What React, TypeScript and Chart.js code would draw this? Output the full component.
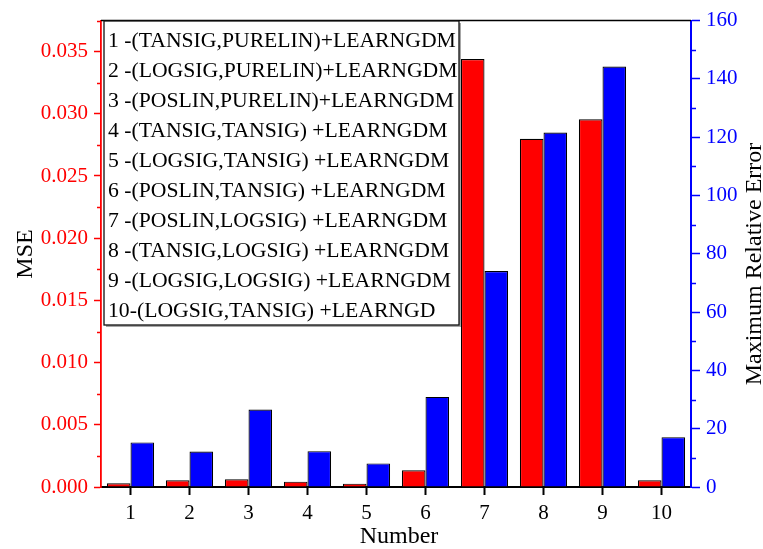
import React, { useEffect, useRef } from "react";
import { Chart, registerables } from "chart.js";

Chart.register(...registerables);

// Network configurations, numbered 1..10
const categories = ["1", "2", "3", "4", "5", "6", "7", "8", "9", "10"];

// Mean squared error (left axis)
const mseValues = [0.0003, 0.00054, 0.00062, 0.00043, 0.00027, 0.00134, 0.0344, 0.028, 0.02956, 0.00054];

// Maximum relative error (right axis)
const mreValues = [15.3, 12.2, 26.6, 12.3, 8.1, 30.9, 74.1, 121.6, 144.2, 17.1];

const mseTicks = [0, 0.005, 0.01, 0.015, 0.02, 0.025, 0.03, 0.035];
const mseMinorTicks = [0.0025, 0.0075, 0.0125, 0.0175, 0.0225, 0.0275, 0.0325, 0.0375];
const mreTicks = [0, 20, 40, 60, 80, 100, 120, 140, 160];
const mreMinorTicks = [10, 30, 50, 70, 90, 110, 130, 150];

const legendLines = [
  "1 -(TANSIG,PURELIN)+LEARNGDM",
  "2 -(LOGSIG,PURELIN)+LEARNGDM",
  "3 -(POSLIN,PURELIN)+LEARNGDM",
  "4 -(TANSIG,TANSIG) +LEARNGDM",
  "5 -(LOGSIG,TANSIG) +LEARNGDM",
  "6 -(POSLIN,TANSIG) +LEARNGDM",
  "7 -(POSLIN,LOGSIG) +LEARNGDM",
  "8 -(TANSIG,LOGSIG) +LEARNGDM",
  "9 -(LOGSIG,LOGSIG) +LEARNGDM",
  "10-(LOGSIG,TANSIG) +LEARNGD",
];

const xTitle = "Number";
const yTitle = "MSE";
const y1Title = "Maximum Relative Error";

const RED = "#ff0000";
const BLUE = "#0000ff";
const FONT = "'Liberation Serif', 'Times New Roman', serif";

const decorPlugin = {
  id: "decor",
  afterDraw(chart: any) {
    const { ctx, chartArea } = chart;
    const { left, right, top, bottom } = chartArea;
    const y = chart.scales.y;
    const y1 = chart.scales.y1;
    ctx.save();

    // top frame line
    ctx.strokeStyle = "#000";
    ctx.lineWidth = 1.5;
    ctx.beginPath();
    ctx.moveTo(left, top);
    ctx.lineTo(right, top);
    ctx.stroke();

    // minor ticks
    ctx.lineWidth = 1.5;
    ctx.strokeStyle = RED;
    for (const v of mseMinorTicks) {
      const py = Math.round(y.getPixelForValue(v)) + 0.5;
      ctx.beginPath();
      ctx.moveTo(left - 4, py);
      ctx.lineTo(left, py);
      ctx.stroke();
    }
    ctx.strokeStyle = BLUE;
    for (const v of mreMinorTicks) {
      const py = Math.round(y1.getPixelForValue(v)) + 0.5;
      ctx.beginPath();
      ctx.moveTo(right, py);
      ctx.lineTo(right + 5, py);
      ctx.stroke();
    }

    // text box listing the configurations
    const bx = left + 3;
    const by = top + 0.5;
    const bw = 355;
    const bh = 304;
    ctx.fillStyle = "rgba(0,0,0,0.35)";
    ctx.fillRect(bx + 2, by + 2, bw, bh);
    ctx.fillStyle = "#fff";
    ctx.fillRect(bx, by, bw, bh);
    ctx.strokeStyle = "#111";
    ctx.lineWidth = 1.3;
    ctx.strokeRect(bx, by, bw, bh);

    ctx.fillStyle = "#000";
    ctx.textAlign = "left";
    ctx.textBaseline = "alphabetic";
    ctx.font = `20px ${FONT}`;
    const w20 = ctx.measureText(legendLines[0]).width;
    const size = (20 * 348) / w20;
    ctx.font = `${size.toFixed(2)}px ${FONT}`;
    legendLines.forEach((line, i) => {
      ctx.fillText(line, bx + 4, by + 26 + i * 30.05);
    });

    // axis titles
    ctx.font = `24px ${FONT}`;
    ctx.fillStyle = "#000";
    ctx.textAlign = "center";
    ctx.fillText(xTitle, (left + right) / 2 + 3, 543);

    ctx.save();
    ctx.translate(32, 254);
    ctx.rotate(-Math.PI / 2);
    ctx.fillText(yTitle, 0, 0);
    ctx.restore();

    ctx.save();
    ctx.translate(761, 264);
    ctx.rotate(-Math.PI / 2);
    ctx.fillText(y1Title, 0, 0);
    ctx.restore();

    ctx.restore();
  },
};

export default function App() {
  const canvasRef = useRef<HTMLCanvasElement | null>(null);

  useEffect(() => {
    const canvas = canvasRef.current;
    if (!canvas) return;
    const chart = new Chart(canvas, {
      type: "bar",
      data: {
        labels: categories,
        datasets: [
          {
            label: yTitle,
            data: mseValues,
            yAxisID: "y",
            backgroundColor: RED,
            borderColor: "#000",
            borderWidth: 1.2,
            categoryPercentage: 0.8,
            barPercentage: 1.0,
          },
          {
            label: y1Title,
            data: mreValues,
            yAxisID: "y1",
            backgroundColor: BLUE,
            borderColor: "#000",
            borderWidth: 1.2,
            categoryPercentage: 0.8,
            barPercentage: 1.0,
          },
        ],
      },
      options: {
        responsive: false,
        animation: false,
        devicePixelRatio: 1,
        layout: { padding: { top: 20.5, left: 0, right: 0, bottom: 0 } },
        plugins: {
          legend: { display: false },
          tooltip: { enabled: false },
          title: { display: false },
        },
        scales: {
          x: {
            type: "category",
            offset: true,
            afterFit: (s: any) => {
              s.height = 62;
            },
            grid: {
              offset: false,
              drawOnChartArea: false,
              drawTicks: true,
              tickLength: 8,
              tickColor: "#000",
              tickWidth: 2,
              color: "#000",
            },
            border: { display: true, color: "#000", width: 2 },
            ticks: {
              color: "#000",
              font: { family: FONT, size: 21 },
              padding: 6,
              maxRotation: 0,
            },
          },
          y: {
            type: "linear",
            position: "left",
            min: 0,
            max: 0.0375,
            afterBuildTicks: (s: any) => {
              s.ticks = mseTicks.map((v) => ({ value: v }));
            },
            afterFit: (s: any) => {
              s.width = 101;
            },
            grid: {
              drawOnChartArea: false,
              drawTicks: true,
              tickLength: 7,
              tickColor: RED,
              tickWidth: 1.5,
              color: RED,
            },
            border: { display: true, color: RED, width: 1.8 },
            ticks: {
              color: RED,
              font: { family: FONT, size: 21 },
              padding: 6,
              callback: (v: any) => Number(v).toFixed(3),
            },
          },
          y1: {
            type: "linear",
            position: "right",
            min: 0,
            max: 160,
            afterBuildTicks: (s: any) => {
              s.ticks = mreTicks.map((v) => ({ value: v }));
            },
            afterFit: (s: any) => {
              s.width = 72;
            },
            grid: {
              drawOnChartArea: false,
              drawTicks: true,
              tickLength: 9,
              tickColor: BLUE,
              tickWidth: 1.5,
              color: BLUE,
            },
            border: { display: true, color: BLUE, width: 2 },
            ticks: {
              color: BLUE,
              font: { family: FONT, size: 21 },
              padding: 6,
              callback: (v: any) => String(v),
            },
          },
        },
      },
      plugins: [decorPlugin],
    });
    return () => chart.destroy();
  }, []);

  return (
    <div style={{ position: "fixed", left: 0, top: 0, width: 763, height: 549, background: "#fff" }}>
      <canvas ref={canvasRef} width={763} height={549} style={{ display: "block" }} />
    </div>
  );
}
